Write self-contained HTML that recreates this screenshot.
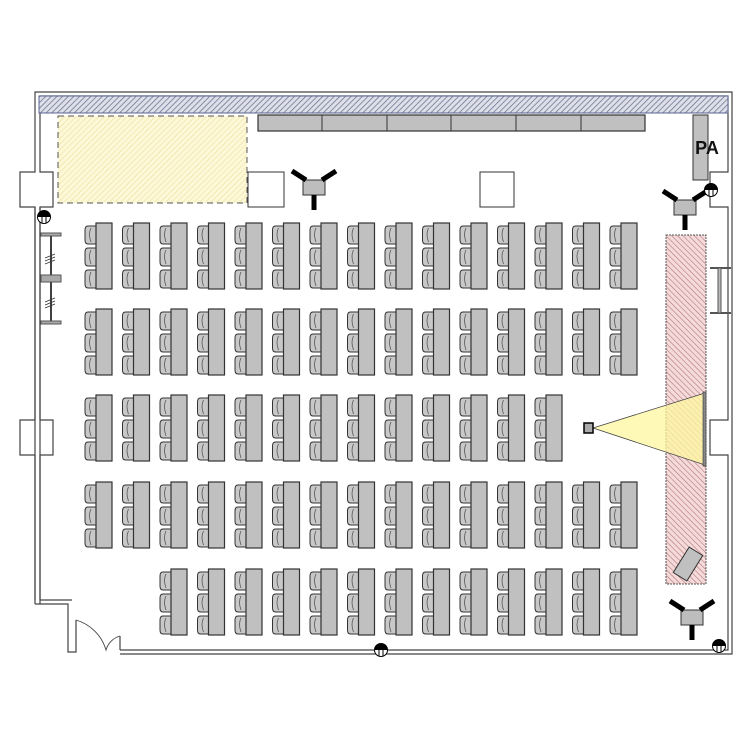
<!DOCTYPE html>
<html><head><meta charset="utf-8"><style>html,body{margin:0;padding:0;background:#fff}svg{display:block}</style></head>
<body>
<svg width="750" height="750" viewBox="0 0 750 750" xmlns="http://www.w3.org/2000/svg">
<defs>
<pattern id="hb" patternUnits="userSpaceOnUse" width="4" height="4" patternTransform="rotate(45)"><rect width="4" height="4" fill="#dde0e8"/><line x1="0" y1="0" x2="0" y2="4" stroke="#6a7090" stroke-width="1.5"/></pattern>
<pattern id="hy" patternUnits="userSpaceOnUse" width="4" height="4" patternTransform="rotate(45)"><rect width="4" height="4" fill="#fdf8d8"/><line x1="0" y1="0" x2="0" y2="4" stroke="#e8dc90" stroke-width="1"/></pattern>
<pattern id="hr" patternUnits="userSpaceOnUse" width="4" height="4" patternTransform="rotate(-45)"><rect width="4" height="4" fill="#f4dada"/><line x1="0" y1="0" x2="0" y2="4" stroke="#b07070" stroke-width="1.1"/></pattern>
<g id="d">
<path d="M96,3 h-8 q-3,0 -3,4 v10 q0,4 3,4 h8 z M96,25 h-8 q-3,0 -3,4 v10 q0,4 3,4 h8 z M96,47 h-8 q-3,0 -3,4 v10 q0,4 3,4 h8 z" fill="#c8c8c8" stroke="#333" stroke-width="1"/>
<path d="M91,5 q-3,6 0,14 M91,27 q-3,6 0,14 M91,49 q-3,6 0,14" fill="none" stroke="#555" stroke-width="0.8"/>
<rect x="96" y="0" width="16" height="66" fill="#c0c0c0" stroke="#333" stroke-width="1.2"/>
</g>
<g id="sp">
<rect x="-11" y="-8" width="22" height="15" fill="#bdbdbd" stroke="#333"/>
<line x1="-8" y1="-8" x2="-22" y2="-17" stroke="#000" stroke-width="5"/>
<line x1="8" y1="-8" x2="22" y2="-17" stroke="#000" stroke-width="5"/>
<line x1="0" y1="7" x2="0" y2="22" stroke="#000" stroke-width="5"/>
</g>
<g id="col"><circle r="6.5" fill="#fff" stroke="#000"/><path d="M-6.5,0 A6.5,6.5 0 0 1 6.5,0 z" fill="#000"/><line x1="-2" y1="0" x2="-2" y2="6" stroke="#000"/><line x1="2" y1="0" x2="2" y2="6" stroke="#000"/></g>
</defs>

<g fill="none" stroke="#444" stroke-width="1.2">
<path d="M35,604 V207 H20 V172 H35 V92 H732 V654 H120"/>
<path d="M40,604 V207 H53 V172 H40 V96 H728 V172 H710 V207 H728 V420 H710 V455 H728 V650 H120"/>
<path d="M35,455 H20 V420 H35 M40,455 H53 V420 H40"/>
<path d="M35,604 H68 V652 H76 V620 M40,600 H72"/>
<path d="M35,600 V455 M40,600 V455 M35,420 V207 M40,420 V207" />
<path d="M120,650 V636"/>
<path d="M76,620 A44,44 0 0 1 106,650 A20,20 0 0 1 120,636" stroke-width="0.9"/>
</g>
<rect x="39" y="96" width="689" height="17" fill="url(#hb)" stroke="#5c6490" stroke-width="1"/>
<rect x="58" y="116" width="189" height="87" fill="url(#hy)" stroke="#555" stroke-dasharray="6,4"/>
<rect x="258" y="115" width="387" height="16" fill="#c0c0c0" stroke="#333" stroke-width="1.2"/>
<g stroke="#333"><line x1="322" y1="115" x2="322" y2="131"/><line x1="387" y1="115" x2="387" y2="131"/><line x1="451" y1="115" x2="451" y2="131"/><line x1="516" y1="115" x2="516" y2="131"/><line x1="581" y1="115" x2="581" y2="131"/></g>
<rect x="248" y="172" width="36" height="35" fill="#fff" stroke="#333"/>
<rect x="480" y="172" width="34" height="35" fill="#fff" stroke="#333"/>
<rect x="693" y="115" width="15" height="65" fill="#c0c0c0" stroke="#333"/>
<text x="707" y="154" font-family="Liberation Sans, sans-serif" font-size="18" font-weight="bold" text-anchor="middle" fill="#111">PA</text>
<use href="#sp" x="314" y="188"/>
<use href="#sp" x="685" y="208"/>
<use href="#sp" x="692" y="618"/>
<use href="#col" x="44" y="217"/>
<use href="#col" x="711" y="190"/>
<use href="#col" x="381" y="650"/>
<use href="#col" x="719" y="646"/>
<g stroke="#000"><line x1="51" y1="233" x2="51" y2="324" stroke-width="1.5"/></g>
<g fill="#aaa" stroke="#555"><rect x="41" y="233" width="20" height="3"/><rect x="41" y="275" width="20" height="7"/><rect x="41" y="321" width="20" height="3"/></g>
<g stroke="#333" stroke-width="0.8"><path d="M45,258 l10,-4 M45,261 l10,-4 M45,264 l10,-4 M45,302 l10,-4 M45,305 l10,-4 M45,308 l10,-4"/></g>
<g stroke="#555"><line x1="710" y1="268" x2="731" y2="268" stroke-width="2"/><line x1="710" y1="313" x2="731" y2="313" stroke-width="2"/><rect x="718" y="268" width="3" height="45" fill="#bbb"/></g>
<rect x="666" y="235" width="40" height="349" fill="url(#hr)" stroke="#555" stroke-dasharray="2,1"/>
<rect x="680" y="549" width="16" height="30" fill="#c0c0c0" stroke="#333" transform="rotate(32 688 564)"/>
<polygon points="593,428 705,393 705,465" fill="#fff7a0" fill-opacity="0.75" stroke="#444" stroke-width="0.8"/>
<rect x="703" y="392" width="3" height="74" fill="#888" stroke="#333" stroke-width="0.6"/>
<rect x="584" y="423" width="9" height="10" fill="#aaa" stroke="#000" stroke-width="1.5"/>
<g>
<use href="#d" x="0" y="223"/><use href="#d" x="37.5" y="223"/><use href="#d" x="75" y="223"/><use href="#d" x="112.5" y="223"/><use href="#d" x="150" y="223"/><use href="#d" x="187.5" y="223"/><use href="#d" x="225" y="223"/><use href="#d" x="262.5" y="223"/><use href="#d" x="300" y="223"/><use href="#d" x="337.5" y="223"/><use href="#d" x="375" y="223"/><use href="#d" x="412.5" y="223"/><use href="#d" x="450" y="223"/><use href="#d" x="487.5" y="223"/><use href="#d" x="525" y="223"/>
<use href="#d" x="0" y="309"/><use href="#d" x="37.5" y="309"/><use href="#d" x="75" y="309"/><use href="#d" x="112.5" y="309"/><use href="#d" x="150" y="309"/><use href="#d" x="187.5" y="309"/><use href="#d" x="225" y="309"/><use href="#d" x="262.5" y="309"/><use href="#d" x="300" y="309"/><use href="#d" x="337.5" y="309"/><use href="#d" x="375" y="309"/><use href="#d" x="412.5" y="309"/><use href="#d" x="450" y="309"/><use href="#d" x="487.5" y="309"/><use href="#d" x="525" y="309"/>
<use href="#d" x="0" y="395"/><use href="#d" x="37.5" y="395"/><use href="#d" x="75" y="395"/><use href="#d" x="112.5" y="395"/><use href="#d" x="150" y="395"/><use href="#d" x="187.5" y="395"/><use href="#d" x="225" y="395"/><use href="#d" x="262.5" y="395"/><use href="#d" x="300" y="395"/><use href="#d" x="337.5" y="395"/><use href="#d" x="375" y="395"/><use href="#d" x="412.5" y="395"/><use href="#d" x="450" y="395"/>
<use href="#d" x="0" y="482"/><use href="#d" x="37.5" y="482"/><use href="#d" x="75" y="482"/><use href="#d" x="112.5" y="482"/><use href="#d" x="150" y="482"/><use href="#d" x="187.5" y="482"/><use href="#d" x="225" y="482"/><use href="#d" x="262.5" y="482"/><use href="#d" x="300" y="482"/><use href="#d" x="337.5" y="482"/><use href="#d" x="375" y="482"/><use href="#d" x="412.5" y="482"/><use href="#d" x="450" y="482"/><use href="#d" x="487.5" y="482"/><use href="#d" x="525" y="482"/>
<use href="#d" x="75" y="569"/><use href="#d" x="112.5" y="569"/><use href="#d" x="150" y="569"/><use href="#d" x="187.5" y="569"/><use href="#d" x="225" y="569"/><use href="#d" x="262.5" y="569"/><use href="#d" x="300" y="569"/><use href="#d" x="337.5" y="569"/><use href="#d" x="375" y="569"/><use href="#d" x="412.5" y="569"/><use href="#d" x="450" y="569"/><use href="#d" x="487.5" y="569"/><use href="#d" x="525" y="569"/>
</g>
</svg>
</body></html>
